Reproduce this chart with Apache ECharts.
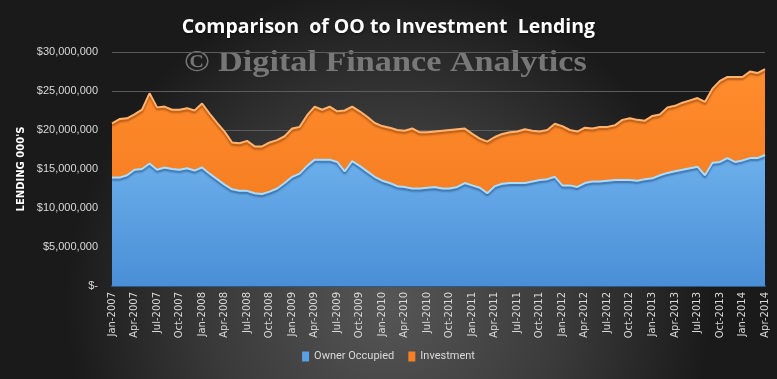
<!DOCTYPE html>
<html>
<head>
<meta charset="utf-8">
<script src="https://cdn.jsdelivr.net/npm/echarts@6/dist/echarts.min.js"></script>
<style>
html,body{margin:0;padding:0;background:#222;}
#chart{width:777px;height:379px;}
</style>
</head>
<body>
<div id="chart"></div>
<script>
var titleText = 'Comparison  of OO to Investment  Lending';
var watermarkText = '\u00A9 Digital Finance Analytics';
var yAxisName = "LENDING 000'S";
var seriesNames = ['Owner Occupied', 'Investment'];

var categories = [
 'Jan-2007','Feb-2007','Mar-2007','Apr-2007','May-2007','Jun-2007','Jul-2007','Aug-2007','Sep-2007','Oct-2007','Nov-2007','Dec-2007',
 'Jan-2008','Feb-2008','Mar-2008','Apr-2008','May-2008','Jun-2008','Jul-2008','Aug-2008','Sep-2008','Oct-2008','Nov-2008','Dec-2008',
 'Jan-2009','Feb-2009','Mar-2009','Apr-2009','May-2009','Jun-2009','Jul-2009','Aug-2009','Sep-2009','Oct-2009','Nov-2009','Dec-2009',
 'Jan-2010','Feb-2010','Mar-2010','Apr-2010','May-2010','Jun-2010','Jul-2010','Aug-2010','Sep-2010','Oct-2010','Nov-2010','Dec-2010',
 'Jan-2011','Feb-2011','Mar-2011','Apr-2011','May-2011','Jun-2011','Jul-2011','Aug-2011','Sep-2011','Oct-2011','Nov-2011','Dec-2011',
 'Jan-2012','Feb-2012','Mar-2012','Apr-2012','May-2012','Jun-2012','Jul-2012','Aug-2012','Sep-2012','Oct-2012','Nov-2012','Dec-2012',
 'Jan-2013','Feb-2013','Mar-2013','Apr-2013','May-2013','Jun-2013','Jul-2013','Aug-2013','Sep-2013','Oct-2013','Nov-2013','Dec-2013',
 'Jan-2014','Feb-2014','Mar-2014','Apr-2014'
];

// values in $ millions (of 000's) -> displayed as $ x 1,000,000
var ownerOccupied = [
 13.9,13.9,14.2,14.9,15.0,15.7,14.9,15.2,15.0,14.9,15.1,14.8,
 15.2,14.4,13.7,13.0,12.4,12.2,12.2,11.9,11.8,12.1,12.5,13.2,
 14.0,14.4,15.4,16.2,16.2,16.2,15.9,14.7,16.0,15.4,14.7,14.0,
 13.5,13.2,12.8,12.7,12.5,12.5,12.6,12.7,12.5,12.5,12.7,13.2,
 12.9,12.6,11.9,12.8,13.1,13.2,13.2,13.2,13.4,13.6,13.7,14.0,
 12.9,12.9,12.7,13.2,13.4,13.4,13.5,13.6,13.6,13.6,13.5,13.7,
 13.8,14.2,14.5,14.7,14.9,15.1,15.3,14.2,15.8,15.9,16.4,15.9,
 16.1,16.4,16.4,16.8
];
var investment = [
 6.95,7.5,7.3,7.1,7.6,9.0,8.0,7.8,7.6,7.7,7.7,7.7,
 8.2,7.7,7.2,6.8,6.0,6.1,6.4,6.0,6.1,6.3,6.2,6.0,
 6.2,6.0,6.5,6.8,6.4,6.8,6.5,7.8,7.0,7.0,7.0,6.9,
 7.0,7.1,7.2,7.2,7.7,7.2,7.1,7.1,7.4,7.5,7.4,7.0,
 6.6,6.3,6.6,6.3,6.4,6.5,6.6,6.9,6.5,6.2,6.3,6.8,
 7.6,7.1,7.1,7.1,6.8,7.0,6.9,7.0,7.7,7.9,7.8,7.5,
 8.0,7.8,8.4,8.4,8.6,8.7,8.8,9.4,9.5,10.4,10.4,10.9,
 10.7,11.1,10.9,11.0
];

var chart = echarts.init(document.getElementById('chart'), null, {renderer:'canvas'});

function money(v){
  if (v === 0) return '$-';
  var n = Math.round(v * 1000000);
  return '$' + n.toString().replace(/\B(?=(\d{3})+(?!\d))/g, ',');
}

var option = {
  backgroundColor: {
    type: 'radial', x: 0.5, y: 0.8, r: 0.85,
    colorStops: [
      {offset: 0, color: '#565656'},
      {offset: 0.55, color: '#3a3a3a'},
      {offset: 1, color: '#1a1a1a'}
    ]
  },
  animation: false,
  title: {
    text: titleText,
    left: 'center',
    top: 12,
    textStyle: {color: '#ffffff', fontFamily: 'Open Sans', fontWeight: 'bold', fontSize: 19.5,
      textShadowColor: 'rgba(0,0,0,0.6)', textShadowBlur: 2, textShadowOffsetY: 1}
  },
  graphic: [{
    type: 'text',
    x: 184,
    y: 48,
    scaleX: 1.14,
    z: 0,
    style: {
      text: watermarkText,
      fill: 'rgba(140,140,140,0.8)',
      font: 'bold 30px "Liberation Serif"'
    }
  }],
  legend: {
    bottom: 12,
    left: 'center',
    itemWidth: 7,
    itemHeight: 10,
    itemGap: 14,
    icon: 'rect',
    textStyle: {color: '#d9d9d9', fontSize: 11, fontFamily: 'Liberation Sans Narrow, Roboto'},
    data: seriesNames
  },
  grid: {left: 112, right: 12, top: 52, bottom: 93},
  xAxis: {
    type: 'category',
    data: categories,
    boundaryGap: false,
    axisLine: {show: true, lineStyle: {color: '#2b5a8a', width: 2}},
    axisTick: {show: false},
    axisLabel: {
      interval: 2,
      rotate: 90,
      color: '#d9d9d9',
      fontSize: 10,
      fontFamily: 'DejaVu Sans',
      margin: 6
    },
    splitLine: {show: false}
  },
  yAxis: {
    type: 'value',
    min: 0, max: 30, interval: 5,
    name: yAxisName,
    nameLocation: 'middle',
    nameGap: 71,
    nameRotate: 90,
    nameTextStyle: {color: '#ffffff', fontWeight: 'bold', fontSize: 10, fontFamily: 'DejaVu Sans'},
    axisLine: {show: false},
    axisTick: {show: false},
    axisLabel: {color: '#d9d9d9', fontSize: 11, fontFamily: 'Liberation Sans', margin: 14, formatter: money},
    splitLine: {lineStyle: {color: '#5c5c5c', width: 1}}
  },
  series: [
    {
      name: seriesNames[0],
      type: 'line',
      stack: 'total',
      data: ownerOccupied,
      symbol: 'none',
      itemStyle: {color: '#5aa0e4'},
      lineStyle: {color: '#a9dcff', width: 2, shadowColor: 'rgba(20,60,110,0.6)', shadowBlur: 2, shadowOffsetY: 2},
      areaStyle: {
        opacity: 1,
        color: {type: 'linear', x: 0, y: 0, x2: 0, y2: 1,
          colorStops: [{offset: 0, color: '#6db0ec'}, {offset: 1, color: '#4a8ed6'}]}
      },
      z: 3
    },
    {
      name: seriesNames[1],
      type: 'line',
      stack: 'total',
      data: investment,
      symbol: 'none',
      itemStyle: {color: '#f58025'},
      lineStyle: {color: '#ffb36e', width: 2, shadowColor: 'rgba(120,50,0,0.6)', shadowBlur: 2, shadowOffsetY: 2},
      areaStyle: {
        opacity: 1,
        color: {type: 'linear', x: 0, y: 0, x2: 0, y2: 1,
          colorStops: [{offset: 0, color: '#ff8c2e'}, {offset: 1, color: '#f67f22'}]}
      },
      z: 2
    }
  ]
};
chart.setOption(option);
</script>
</body>
</html>
